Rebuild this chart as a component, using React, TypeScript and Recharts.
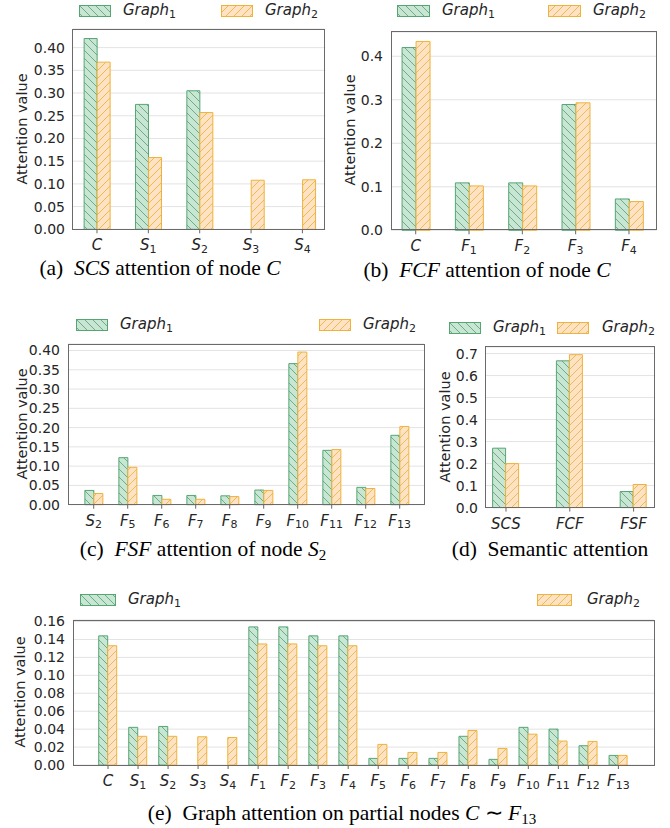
import React from "react";
import { BarChart, Bar, XAxis, YAxis, CartesianGrid } from "recharts";

// (a) SCS attention of node C
const catsA = ["C", "S_1", "S_2", "S_3", "S_4"];
const graph1A = [0.42, 0.275, 0.305, 0, 0];
const graph2A = [0.368, 0.158, 0.257, 0.108, 0.109];

// (b) FCF attention of node C
const catsB = ["C", "F_1", "F_2", "F_3", "F_4"];
const graph1B = [0.42, 0.109, 0.109, 0.289, 0.072];
const graph2B = [0.434, 0.102, 0.102, 0.293, 0.066];

// (c) FSF attention of node S2
const catsC = ["S_2", "F_5", "F_6", "F_7", "F_8", "F_9", "F_10", "F_11", "F_12", "F_13"];
const graph1C = [0.037, 0.122, 0.024, 0.024, 0.023, 0.038, 0.366, 0.141, 0.045, 0.18];
const graph2C = [0.029, 0.097, 0.014, 0.014, 0.021, 0.037, 0.396, 0.143, 0.042, 0.203];

// (d) semantic attention
const catsD = ["SCS", "FCF", "FSF"];
const graph1D = [0.27, 0.667, 0.073];
const graph2D = [0.2, 0.695, 0.105];

// (e) graph attention on partial nodes
const catsE = ["C", "S_1", "S_2", "S_3", "S_4", "F_1", "F_2", "F_3", "F_4", "F_5", "F_6", "F_7", "F_8", "F_9", "F_10", "F_11", "F_12", "F_13"];
const graph1E = [0.144, 0.042, 0.043, 0, 0, 0.154, 0.154, 0.144, 0.144, 0.0074, 0.0074, 0.0074, 0.032, 0.0063, 0.042, 0.04, 0.0215, 0.0107];
const graph2E = [0.133, 0.032, 0.032, 0.0315, 0.0307, 0.135, 0.135, 0.133, 0.133, 0.023, 0.014, 0.014, 0.0385, 0.0185, 0.0344, 0.0267, 0.0263, 0.0107];

const ticks005 = [0, 0.05, 0.1, 0.15, 0.2, 0.25, 0.3, 0.35, 0.4];
const ticks01 = [0, 0.1, 0.2, 0.3, 0.4];
const ticks01d = [0, 0.1, 0.2, 0.3, 0.4, 0.5, 0.6, 0.7];
const ticks002 = [0, 0.02, 0.04, 0.06, 0.08, 0.1, 0.12, 0.14, 0.16];

const SANS = "'DejaVu Sans', sans-serif";
const SERIF = "'Liberation Serif', 'Times New Roman', serif";
const TEXT = "#262626";
const GREEN_EDGE = "#55a673";
const ORANGE_EDGE = "#efb23a";

function CatTick(props: any) {
  const { x, y, payload } = props;
  const [base, sub] = String(payload.value).split("_");
  return (
    <text x={x} y={y + 15} textAnchor="middle" fontFamily={SANS} fontSize={15} fill={TEXT}>
      <tspan fontStyle="italic">{base}</tspan>
      {sub && (
        <tspan fontSize={11} dy={2.5}>
          {sub}
        </tspan>
      )}
    </text>
  );
}

type PanelProps = {
  cats: string[];
  g1: number[];
  g2: number[];
  left: number;
  top: number;
  plotW: number;
  plotH: number;
  yMax: number;
  yTicks: number[];
  digits: number;
  padL: number;
  padR: number;
  gap: string;
};

function Panel(p: PanelProps) {
  const data = p.cats.map((c, i) => ({ cat: c, g1: p.g1[i], g2: p.g2[i] }));
  const yW = 60;
  const mt = 10;
  const xH = 26;
  return (
    <div style={{ position: "absolute", left: p.left - yW, top: p.top - mt }}>
      <BarChart
        width={yW + p.plotW + 2}
        height={mt + p.plotH + xH}
        data={data}
        margin={{ top: mt, right: 2, bottom: 0, left: 0 }}
        barCategoryGap={p.gap}
        barGap={0}
      >
        <CartesianGrid vertical={false} stroke="#e3e3e3" />
        <XAxis
          dataKey="cat"
          padding={{ left: p.padL, right: p.padR }}
          axisLine={false}
          tickLine={{ stroke: "#666" }}
          tickSize={4}
          tick={<CatTick />}
          interval={0}
          height={xH}
        />
        <YAxis
          domain={[0, p.yMax]}
          ticks={p.yTicks}
          interval={0}
          width={yW}
          axisLine={false}
          tickLine={false}
          tickFormatter={(v: number) => v.toFixed(p.digits)}
          tick={{ fontFamily: SANS, fontSize: 14, fill: TEXT }}
        />
        <Bar dataKey="g1" fill="url(#hatchG)" stroke={GREEN_EDGE} strokeWidth={1} isAnimationActive={false} />
        <Bar dataKey="g2" fill="url(#hatchO)" stroke={ORANGE_EDGE} strokeWidth={1} isAnimationActive={false} />
      </BarChart>
      <div
        style={{
          position: "absolute",
          left: yW - 0.5,
          top: mt - 0.5,
          width: p.plotW + 1,
          height: p.plotH + 1,
          border: "1px solid #6a6a6a",
          boxSizing: "border-box",
          pointerEvents: "none",
        }}
      />
    </div>
  );
}

function Patch({ x, y, w, h, green }: { x: number; y: number; w: number; h: number; green: boolean }) {
  return (
    <svg style={{ position: "absolute", left: x, top: y }} width={w} height={h}>
      <rect
        x={0.5}
        y={0.5}
        width={w - 1}
        height={h - 1}
        fill={green ? "url(#hatchG)" : "url(#hatchO)"}
        stroke={green ? GREEN_EDGE : ORANGE_EDGE}
      />
    </svg>
  );
}

function LegendItem({ px, tx, cy, w, n }: { px: number; tx: number; cy: number; w: number; n: number }) {
  return (
    <>
      <Patch x={px} y={cy - 6} w={w} h={12} green={n === 1} />
      <div
        style={{
          position: "absolute",
          left: tx,
          top: cy - 11,
          fontFamily: SANS,
          fontSize: 15,
          lineHeight: "20px",
          color: TEXT,
          whiteSpace: "nowrap",
        }}
      >
        <span style={{ fontStyle: "italic" }}>Graph</span>
        <span style={{ fontSize: 11, position: "relative", top: 3 }}>{n}</span>
      </div>
    </>
  );
}

function YLabel({ cx, cy }: { cx: number; cy: number }) {
  return (
    <div
      style={{
        position: "absolute",
        left: cx,
        top: cy,
        transform: "translate(-50%, -50%) rotate(-90deg)",
        fontFamily: SANS,
        fontSize: 14.5,
        color: TEXT,
        whiteSpace: "nowrap",
        lineHeight: "16px",
      }}
    >
      Attention value
    </div>
  );
}

function Caption({ cx, cy, children }: { cx: number; cy: number; children: React.ReactNode }) {
  return (
    <div
      style={{
        position: "absolute",
        left: cx - 250,
        width: 500,
        top: cy - 10,
        textAlign: "center",
        fontFamily: SERIF,
        fontSize: 21.5,
        lineHeight: "20px",
        color: "#000",
        whiteSpace: "pre",
      }}
    >
      {children}
    </div>
  );
}

const I = ({ children }: { children: React.ReactNode }) => <i>{children}</i>;
const Sub = ({ children }: { children: React.ReactNode }) => (
  <span style={{ fontSize: 15, position: "relative", top: 4 }}>{children}</span>
);

export default function App() {
  return (
    <div style={{ position: "absolute", left: 0, top: 0, width: 670, height: 828, background: "#fff" }}>
      <svg width={0} height={0} style={{ position: "absolute" }}>
        <defs>
          <pattern id="hatchG" patternUnits="userSpaceOnUse" width={8} height={8}>
            <rect width={8} height={8} fill="#c9e5d3" />
            <path d="M0,0 L8,8 M-2,6 L2,10 M6,-2 L10,2" stroke="#5fa87b" strokeWidth={0.9} />
          </pattern>
          <pattern id="hatchO" patternUnits="userSpaceOnUse" width={8} height={8}>
            <rect width={8} height={8} fill="#fde3c3" />
            <path d="M0,8 L8,0 M-2,2 L2,-2 M6,10 L10,6" stroke="#f0b446" strokeWidth={0.9} />
          </pattern>
        </defs>
      </svg>

      {/* (a) */}
      <LegendItem px={79} tx={123} cy={11} w={32} n={1} />
      <LegendItem px={221} tx={265} cy={11} w={32} n={2} />
      <YLabel cx={22} cy={129} />
      <Panel cats={catsA} g1={graph1A} g2={graph2A} left={72.7} top={29} plotW={252.3} plotH={200.3}
        yMax={0.441} yTicks={ticks005} digits={2} padL={-1.7} padR={-2.8} gap="25%" />
      <Caption cx={160} cy={268}>(a)  <I>SCS</I> attention of node <I>C</I></Caption>

      {/* (b) */}
      <LegendItem px={397} tx={442} cy={11} w={33} n={1} />
      <LegendItem px={548} tx={593} cy={11} w={33} n={2} />
      <YLabel cx={350} cy={130} />
      <Panel cats={catsB} g1={graph1B} g2={graph2B} left={391} top={31.7} plotW={265.7} plotH={198.3}
        yMax={0.4557} yTicks={ticks01} digits={1} padL={-1.95} padR={1.05} gap="24.4%" />
      <Caption cx={487} cy={270}>(b)  <I>FCF</I> attention of node <I>C</I></Caption>

      {/* (c) */}
      <LegendItem px={76} tx={120} cy={325} w={32} n={1} />
      <LegendItem px={319} tx={363} cy={325} w={32} n={2} />
      <YLabel cx={21.5} cy={424} />
      <Panel cats={catsC} g1={graph1C} g2={graph2C} left={68.3} top={344} plotW={356} plotH={160.7}
        yMax={0.4169} yTicks={ticks005} digits={2} padL={8.7} padR={7.3} gap="24%" />
      <Caption cx={203} cy={549}>(c)  <I>FSF</I> attention of node <I>S</I><Sub>2</Sub></Caption>

      {/* (d) */}
      <LegendItem px={449} tx={493} cy={328} w={32} n={1} />
      <LegendItem px={557} tx={602} cy={328} w={32} n={2} />
      <YLabel cx={445} cy={427} />
      <Panel cats={catsD} g1={graph1D} g2={graph2D} left={485.7} top={346.7} plotW={168.6} plotH={160.6}
        yMax={0.7298} yTicks={ticks01d} digits={1} padL={-11.9} padR={-10.9} gap="29%" />
      <Caption cx={550} cy={549}>(d)  Semantic attention</Caption>

      {/* (e) */}
      <LegendItem px={80} tx={128} cy={600} w={36} n={1} />
      <LegendItem px={537} tx={587} cy={600} w={35} n={2} />
      <YLabel cx={20} cy={692} />
      <Panel cats={catsE} g1={graph1E} g2={graph2E} left={73.3} top={620} plotW={581} plotH={145}
        yMax={0.1617} yTicks={ticks002} digits={2} padL={20} padR={20.6} gap="19%" />
      <Caption cx={342} cy={813}>(e)  Graph attention on partial nodes <I>C</I> ∼ <I>F</I><Sub>13</Sub></Caption>
    </div>
  );
}
